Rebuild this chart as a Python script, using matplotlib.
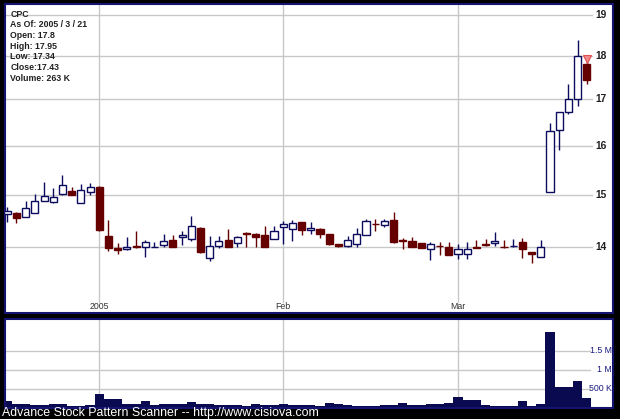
import numpy as np
import pandas as pd
import matplotlib
matplotlib.use("Agg")
import matplotlib.pyplot as plt

# daily candles, CPC, 2004-12-17 .. 2005-03-21
opens = [14.63, 14.65, 14.57, 14.65, 14.88, 14.85, 15.01, 15.08, 14.84, 15.05,
         15.16, 14.21, 13.98, 13.96, 14.02, 14.00, 14.00, 14.04, 14.13, 14.18,
         14.16, 14.36, 13.81, 14.03, 14.14, 14.07, 14.27, 14.25, 14.23, 14.16,
         14.37, 14.33, 14.47, 14.32, 14.34, 14.24, 14.05, 14.02, 14.06, 14.22,
         14.44, 14.41, 14.51, 14.13, 14.12, 14.07, 13.96, 14.03, 14.00, 13.87,
         13.87, 14.00, 14.05, 14.07, 14.01, 14.02, 14.09, 13.91, 13.82, 15.05,
         16.32, 16.72, 17.00, 17.80]
highs = [14.76, 14.67, 14.88, 15.02, 15.25, 15.13, 15.40, 15.16, 15.22, 15.24,
         15.18, 14.51, 14.07, 14.19, 14.30, 14.13, 14.09, 14.25, 14.22, 14.30,
         14.58, 14.37, 14.20, 14.21, 14.33, 14.21, 14.28, 14.26, 14.39, 14.39,
         14.49, 14.50, 14.48, 14.47, 14.35, 14.25, 14.06, 14.21, 14.36, 14.53,
         14.52, 14.53, 14.66, 14.17, 14.18, 14.08, 14.10, 14.10, 14.09, 14.05,
         14.09, 14.13, 14.16, 14.29, 14.13, 14.15, 14.17, 13.91, 14.13, 16.48,
         16.72, 17.35, 18.38, 17.95]
lows = [14.48, 14.46, 14.57, 14.65, 14.87, 14.84, 15.00, 14.99, 14.83, 15.00,
        14.30, 13.93, 13.87, 13.95, 13.98, 13.82, 14.00, 14.00, 14.00, 14.04,
        14.11, 13.90, 13.75, 13.99, 14.01, 14.00, 14.00, 14.00, 14.01, 14.16,
        14.06, 14.11, 14.22, 14.25, 14.17, 14.04, 14.00, 14.00, 14.00, 14.22,
        14.30, 14.38, 14.08, 13.96, 14.01, 13.98, 13.76, 13.85, 13.85, 13.79,
        13.79, 13.99, 14.02, 14.02, 13.99, 14.00, 13.80, 13.72, 13.82, 15.05,
        15.90, 16.68, 16.85, 17.34]
closes = [14.69, 14.55, 14.73, 14.88, 14.97, 14.96, 15.19, 15.00, 15.10, 15.15,
          14.32, 13.98, 13.95, 14.00, 14.00, 14.09, 14.01, 14.12, 14.00, 14.22,
          14.40, 13.92, 14.02, 14.12, 14.01, 14.18, 14.24, 14.18, 14.01, 14.30,
          14.43, 14.46, 14.32, 14.36, 14.24, 14.06, 14.02, 14.13, 14.25, 14.49,
          14.43, 14.49, 14.09, 14.11, 14.01, 13.99, 14.05, 14.02, 13.86, 13.96,
          13.96, 13.99, 14.04, 14.12, 14.00, 14.02, 13.96, 13.87, 14.00, 16.31,
          16.71, 17.00, 18.00, 17.43]
volumes_k = [167, 88, 105, 60, 60, 105, 105, 50, 50, 60,
             350, 230, 230, 88, 105, 167, 70, 105, 105, 105,
             158, 105, 105, 60, 60, 80, 50, 96, 80, 60,
             96, 60, 60, 60, 50, 114, 96, 60, 50, 50,
             50, 60, 60, 114, 60, 60, 88, 88, 114, 290,
             193, 210, 60, 55, 55, 55, 184, 45, 88, 1980,
             544, 544, 693, 263]
holidays = ["2004-12-24", "2005-01-17", "2005-02-21"]
price_ticks = [14, 15, 16, 17, 18, 19]
vol_ticks = [500, 1000, 1500]
vol_labels = ["500 K", "1 M", "1.5 M"]
info_lines = ["CPC", "As Of: 2005 / 3 / 21", "Open: 17.8", "High: 17.95",
              "Low: 17.34", "Close:17.43", "Volume: 263 K"]

days = pd.bdate_range("2004-12-17", "2005-03-21")
days = days[~days.isin(pd.to_datetime(holidays))]
x = np.arange(len(days))
month_start = [i for i in range(1, len(days)) if days[i].month != days[i - 1].month]
month_names = ["2005" if days[i].month == 1 else days[i].strftime("%b") for i in month_start]

o = np.array(opens); h = np.array(highs); l = np.array(lows); c = np.array(closes)
up = c >= o

W, H = 620, 419
fig = plt.figure(figsize=(W / 100, H / 100), dpi=100, facecolor="black")
ax = fig.add_axes([5 / W, (H - 313) / H, 608 / W, 309 / H])
axv = fig.add_axes([5 / W, (H - 407.7) / H, 608 / W, 88.7 / H])

navy = "#0c0c5e"
maroon = "#660000"
grid = "#c8c8c8"
xlim = (-0.25, 65.84)

# price panel
ax.set_yscale("log")
ax.set_ylim(12.84, 19.27)
ax.set_xlim(*xlim)
for p in price_ticks:
    ax.plot([xlim[0], 63.55], [p, p], color=grid, lw=1, zorder=1)
    ax.text(64.55, p, str(p), fontsize=7.3, fontweight="bold", color="#202020",
            ha="center", va="center", family="Liberation Sans")
for i, name in zip(month_start, month_names):
    ax.axvline(i, ymin=0.036, ymax=1, color=grid, lw=1, zorder=1)
    ax.text(i, 0.02, name, transform=ax.get_xaxis_transform(), fontsize=6.3,
            color="#303030", ha="center", va="center", family="Liberation Sans")

wick_col = np.where(up, navy, maroon)
ax.vlines(x, l, h, colors=wick_col, lw=1, zorder=2)
bottoms = np.minimum(o, c)
heights = np.abs(c - o)
ax.bar(x, heights, 0.78, bottom=bottoms, color=np.where(up, "white", maroon),
       edgecolor=wick_col, lw=1, zorder=3)
ax.plot(x[-1], h[-1] - 0.02, marker="v", ms=5.5, color="#f08a8a",
        mec="#e05050", mew=0.8, zorder=4)

for k, line in enumerate(info_lines):
    ax.text(0.0085, 0.967 - k * 0.0345, line, transform=ax.transAxes,
            fontsize=6.3, fontweight="bold", color="#202020", va="center",
            family="Liberation Sans")

# volume panel
vol = np.array(volumes_k)
axv.set_xlim(*xlim)
axv.set_ylim(0, 2330)
for v, lab in zip(vol_ticks, vol_labels):
    axv.plot([xlim[0], 63.3], [v, v], color=grid, lw=1, zorder=1)
    axv.text(0.998, v, lab, transform=axv.get_yaxis_transform(), fontsize=6.3,
             color="#1a1a80", ha="right", va="center", family="Liberation Sans")
for i in month_start:
    axv.axvline(i, color=grid, lw=1, zorder=1)
axv.bar(x, vol, 1.0, color="#0a0a50", zorder=2)

for a in (ax, axv):
    a.set_xticks([]); a.set_yticks([])
    a.minorticks_off()
    a.set_facecolor("white")
    for s in a.spines.values():
        s.set_color("#141470")
        s.set_linewidth(1.5)
ax.yaxis.set_minor_locator(matplotlib.ticker.NullLocator())

fig.text(2 / W, (H - 413) / H, "Advance Stock Pattern Scanner -- http://www.cisiova.com",
         color="white", fontsize=8.9, va="center", family="Liberation Sans")

fig.savefig("out.png", dpi=100, facecolor="black")
